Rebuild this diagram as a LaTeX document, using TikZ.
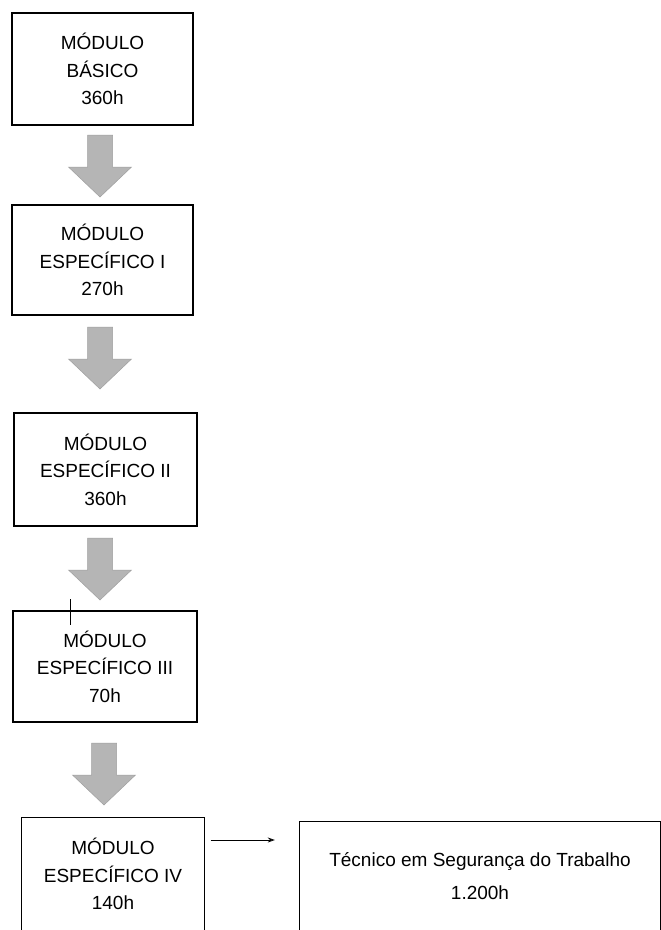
\documentclass[tikz,border=0pt]{standalone}
\usepackage{fontspec}
\setmainfont{Liberation Sans}
\usetikzlibrary{arrows.meta,calc}
\begin{document}
\begin{tikzpicture}[x=1pt,y=-1pt,
  box/.style={draw=black,line width=1.3pt,inner sep=0pt,align=center,
    font=\fontsize{19}{27.5}\selectfont},
  openbox/.style={inner sep=0pt,align=center,font=\fontsize{19}{33}\selectfont},
  blockarrow/.style={fill=gray!58,draw=gray!75,line width=0.5pt},
  thin/.style={draw=black,line width=0.8pt}]
\useasboundingbox[fill=white] (0,0) rectangle (661,930);
% boxes
\node[box,minimum width=181pt,minimum height=112pt] (b1) at (102.5,69) {MÓDULO\\BÁSICO\\360h};
\node[box,minimum width=181pt,minimum height=110pt] (b2) at (102.5,260) {MÓDULO\\ESPECÍFICO I\\270h};
\node[box,minimum width=183pt,minimum height=113pt] (b3) at (105.5,469.5) {MÓDULO\\ESPECÍFICO II\\360h};
\node[box,minimum width=184pt,minimum height=111pt] (b4) at (105,666.5) {MÓDULO\\ESPECÍFICO III\\70h};
\node[box,draw=none,minimum width=182pt,minimum height=112pt] (b5) at (113,874) {MÓDULO\\ESPECÍFICO IV\\140h};
\draw[line width=1.3pt] (b5.south west) -- (b5.north west) -- (b5.north east) -- (b5.south east);
\node[openbox,minimum width=360pt,minimum height=108pt] (b6) at (480,876) {Técnico em Segurança do Trabalho\\1.200h};
\draw[line width=1.3pt] (b6.south west) -- (b6.north west) -- (b6.north east) -- (b6.south east);
% block arrows
\foreach \cx/\y in {100/135,100/327,100/538,104/743}{
  \path[blockarrow] (\cx-12.5,\y) -- (\cx+12.5,\y) -- (\cx+12.5,\y+32) -- (\cx+31.5,\y+32)
    -- (\cx,\y+62) -- (\cx-31.5,\y+32) -- (\cx-12.5,\y+32) -- cycle;
}
% tick mark
\coordinate (t1) at (70,599);
\coordinate (t2) at (70,625);
\draw[thin] (t1) -- (t2);
% connector
\draw[line width=0.8pt,-{Stealth[length=7pt,width=5pt,fill=gray!70]},shorten <=6pt,shorten >=25pt]
  (b5.east |- 0,840) -- (b6.west |- 0,840);
\end{tikzpicture}
\end{document}
